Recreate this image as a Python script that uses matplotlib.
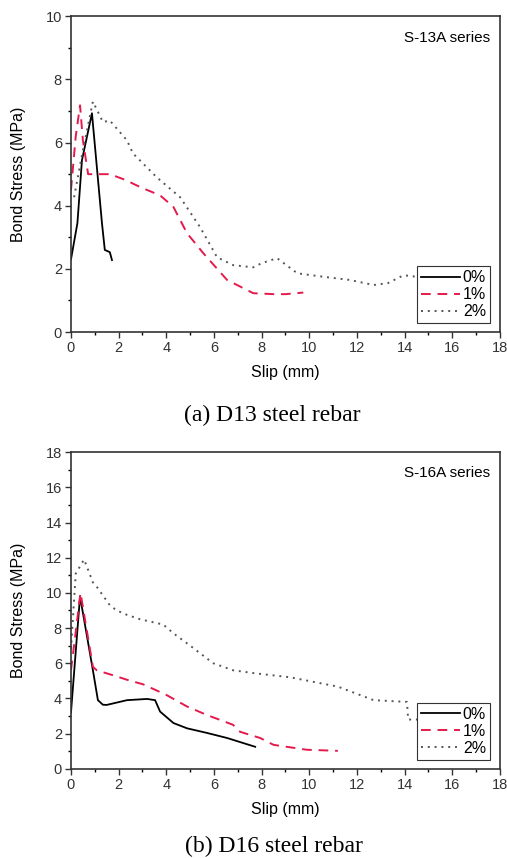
import matplotlib
matplotlib.use("Agg")
import matplotlib.pyplot as plt
from matplotlib.ticker import MultipleLocator

# ---- S-13A series (D13 rebar) ----
d13_slip_0 = [0.0, 0.27, 0.46, 0.88, 1.3, 1.42, 1.63, 1.72]
d13_bond_0 = [2.3, 3.45, 5.44, 6.93, 3.45, 2.6, 2.53, 2.28]

d13_slip_1 = [0.0, 0.2, 0.38, 0.5, 0.72, 1.13, 1.63, 2.35, 2.6, 3.03, 3.74, 4.3,
              4.87, 5.55, 6.55, 7.65, 8.5, 9.0, 9.75]
d13_bond_1 = [4.5, 6.2, 7.18, 6.07, 5.0, 5.0, 5.0, 4.8, 4.7, 4.55, 4.33, 3.96,
              3.13, 2.5, 1.65, 1.23, 1.2, 1.2, 1.25]

d13_slip_2 = [0.13, 0.5, 0.92, 1.34, 1.63, 2.35, 2.6, 3.6, 4.58, 5.42, 6.13, 6.8,
              7.65, 8.0, 8.65, 9.5, 10.6, 11.7, 12.7, 13.3, 13.96, 14.5]
d13_bond_2 = [4.27, 5.76, 7.3, 6.65, 6.7, 6.07, 5.66, 4.9, 4.27, 3.32, 2.37, 2.12,
              2.05, 2.18, 2.34, 1.86, 1.75, 1.65, 1.49, 1.55, 1.8, 1.75]

# ---- S-16A series (D16 rebar) ----
d16_slip_0 = [0.0, 0.38, 0.92, 1.13, 1.34, 1.5, 2.35, 3.2, 3.53, 3.74, 4.3, 4.87,
              5.7, 6.55, 7.73]
d16_bond_0 = [3.2, 9.8, 5.6, 3.9, 3.64, 3.63, 3.9, 3.97, 3.9, 3.25, 2.6, 2.3,
              2.04, 1.75, 1.25]

d16_slip_1 = [0.0, 0.4, 0.92, 1.08, 1.92, 2.35, 3.03, 4.0, 4.87, 5.7, 6.8, 7.1,
              7.94, 8.5, 9.9, 11.2]
d16_bond_1 = [5.6, 10.0, 5.8, 5.6, 5.25, 5.06, 4.8, 4.2, 3.54, 3.06, 2.5, 2.1,
              1.75, 1.36, 1.08, 1.02]

d16_slip_2 = [0.0, 0.2, 0.55, 0.92, 1.08, 1.63, 1.92, 2.35, 2.9, 3.87, 4.3, 5.0,
              5.97, 6.8, 7.65, 9.2, 11.2, 12.7, 14.1, 14.15, 14.6]
d16_bond_2 = [6.8, 11.1, 11.9, 10.6, 10.35, 9.3, 9.0, 8.75, 8.5, 8.2, 7.7, 7.0,
              6.0, 5.6, 5.44, 5.2, 4.67, 3.9, 3.8, 2.8, 2.8]

labels = ["0%", "1%", "2%"]
red = "#e5194c"
grey = "#555555"

plt.rcParams["font.family"] = ["Liberation Sans", "DejaVu Sans"]


def draw_panel(ax, series, ymax, note):
    styles = [
        dict(color="black", linestyle="-", linewidth=1.3),
        dict(color=red, linestyle=(0, (5, 3.5)), linewidth=1.4),
        dict(color=grey, linestyle=(0, (1, 2.5)), linewidth=1.4),
    ]
    for (x, y), lab, st in zip(series, labels, styles):
        ax.plot(x, y, label=lab, **st)

    ax.set_xlim(0, 18)
    ax.set_ylim(0, ymax)
    ax.xaxis.set_major_locator(MultipleLocator(2))
    ax.xaxis.set_minor_locator(MultipleLocator(1))
    ax.yaxis.set_major_locator(MultipleLocator(2))
    ax.yaxis.set_minor_locator(MultipleLocator(1))
    ax.tick_params(which="major", direction="out", length=4, width=1,
                   labelsize=10.5, colors="#333333", pad=2.5)
    ax.tick_params(which="minor", direction="out", length=2.5, width=1)
    for sp in ax.spines.values():
        sp.set_linewidth(1.2)
        sp.set_color("#333333")

    ax.set_xlabel("Slip (mm)", fontsize=11.5)
    ax.set_ylabel("Bond Stress (MPa)", fontsize=11.5)
    ax.xaxis.set_label_coords(0.5, -0.105)
    ax.yaxis.set_label_coords(-0.105, 0.5)
    ax.text(0.977, 0.955, note, transform=ax.transAxes, ha="right", va="top",
            fontsize=11)
    leg = ax.legend(loc="lower right", fontsize=11.5, handlelength=2.4,
                    handletextpad=0.2, borderpad=0.25, labelspacing=0.12,
                    fancybox=False, framealpha=1, edgecolor="#333333",
                    bbox_to_anchor=(0.977, 0.028), borderaxespad=0)
    leg.get_frame().set_linewidth(0.8)


fig = plt.figure(figsize=(5.07, 8.58), dpi=100)
ax1 = fig.add_axes([0.140, 0.613, 0.846, 0.368])
ax2 = fig.add_axes([0.140, 0.104, 0.846, 0.369])

draw_panel(ax1, [(d13_slip_0, d13_bond_0), (d13_slip_1, d13_bond_1),
                 (d13_slip_2, d13_bond_2)], 10, "S-13A series")
draw_panel(ax2, [(d16_slip_0, d16_bond_0), (d16_slip_1, d16_bond_1),
                 (d16_slip_2, d16_bond_2)], 18, "S-16A series")

serif = ["Liberation Serif", "DejaVu Serif"]
fig.text(272 / 507, 1 - 415 / 858, "(a) D13 steel rebar", ha="center",
         va="center", fontsize=17, family=serif)
fig.text(274 / 507, 1 - 846 / 858, "(b) D16 steel rebar", ha="center",
         va="center", fontsize=17, family=serif)

fig.savefig("out.png", dpi=100)
